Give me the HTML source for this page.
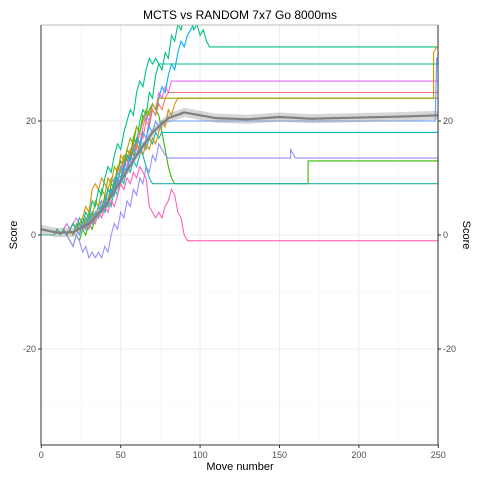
<!DOCTYPE html>
<html><head><meta charset="utf-8"><style>
body{margin:0;background:#fff;font-family:"Liberation Sans",sans-serif}
svg text{font-family:"Liberation Sans",sans-serif}
</style></head><body>
<svg id="chart" width="480" height="480" xmlns="http://www.w3.org/2000/svg">
<rect width="480" height="480" fill="#fff"/>
<text x="240" y="19" text-anchor="middle" font-size="12" fill="#000">MCTS vs RANDOM 7x7 Go 8000ms</text>
<g id="grid"></g>
<defs><clipPath id="pc"><rect x="41" y="25" width="397" height="420"/></clipPath></defs>
<g id="series" clip-path="url(#pc)"></g>
<g id="axes"></g>
<text x="240" y="470" text-anchor="middle" font-size="11">Move number</text>
<text transform="translate(17,235) rotate(-90)" text-anchor="middle" font-size="11">Score</text>
<text transform="translate(463,235) rotate(90)" text-anchor="middle" font-size="11">Score</text>
</svg>
<script>
const xTicks=[0,50,100,150,200,250];
const yTicks=[-20,0,20];
const step=2;
const startMove=8;
const colors=["#00BF7D","#00B0F6","#39B600","#9590FF","#00BFC4","#E76BF3","#FF62BC","#F8766D","#D89000","#A3A500","#619CFF","#00C08B","#20B2AA"];
const v0=[0,1,0,1,0,1,0,1,2,1,2,3,2,4,3,5,6,5,8,7,10,9,12,14,13,17,16,20,22,21,25,24,28,30,29,32,31,35,34,37,36,38,37,38,36,37,35,36,34,33];
const v1=[0,1,0,1,0,1,0,1,0,2,1,3,2,4,3,5,4,6,8,7,10,9,12,11,14,13,16,15,18,17,20,22,21,24,26,25,28,30,29,32,34,33,35,36,37,38,40];
const v2=[0,1,0,1,0,-1,-2,0,-1,1,0,2,1,3,5,4,7,6,9,8,11,13,12,15,14,17,19,18,21,20,22,23,22,21,18,15,12,10,9];
const v3=[0,1,0,1,0,-1,-2,0,-1,-3,-2,-4,-3,-4,-3,-4,-2,-3,0,2,1,4,3,6,5,8,7,10,9,12,11,14,13,16,15,14,13.5];
const v4=[0,1,0,1,2,1,0,1,2,1,2,3,2,4,3,5,4,6,5,8,7,10,9,12,11,13,12,14,16,15,17,16,18,17,18];
const v5=[0,1,0,1,2,1,2,3,2,1,2,3,4,3,5,4,6,8,7,9,11,10,13,12,15,14,17,16,19,21,20,23,22,25,24,26,25,27];
const v6=[0,1,0,1,0,1,0,1,2,1,2,1,3,2,4,3,5,4,6,5,7,9,8,10,9,11,10,12,11,10,5,4,3,4,3,5,6,8,7,4,3,0,-1];
const v7=[0,1,0,1,0,1,2,1,2,1,3,2,4,3,5,6,5,8,7,10,9,12,11,14,13,16,15,18,17,20,19,22,21,23,22,24,25];
const v8=[0,1,0,1,0,1,2,1,2,3,5,4,8,9,8,10,9,8,10,9,12,11,14,13,15,14,16,15,14,16,15,17,16,18,20,19,22,21,23,24];
const v9=[0,1,0,1,0,1,0,2,1,3,2,4,3,6,5,8,7,10,9,12,11,14,13,15,17,16,19,18,20,22,21,23,22,24];
const v10=[0,1,0,1,0,1,2,1,0,2,1,3,2,4,3,6,5,8,7,10,9,12,11,14,13,15,14,16,18,17,19,18,20,19,20];
const v11=[0,1,0,1,0,1,2,1,3,2,4,3,6,5,8,7,10,12,11,14,16,15,18,20,22,21,25,27,26,29,31,30,31,30];
const v12=[0,1,0,1,0,1,2,1,2,1,3,2,4,3,5,4,6,8,7,9,11,10,12,14,13,15,17,16,14,12,10,9];
const series=[v0,v1,v2,v3,v4,v5,v6,v7,v8,v9,v10,v11,v12];
const tails=[[],[],[[168,9],[168,13]],[[157,13.5],[157,15],[160,13.5]],[],[],[],[],[[247,24],[247,32],[249,33]],[],[[248,20],[249,31]],[],[]];
const trendX=[0,10,20,30,40,50,60,70,80,90,100,110,130,150,170,200,230,250];
const trendY=[1,0.4,0.5,2,5,9.5,14,18,20.5,21.5,21,20.5,20.3,20.7,20.4,20.6,20.8,21];
const X=m=>41.3+m*(397/250);
const Y=v=>235-v*5.7;
const NS="http://www.w3.org/2000/svg";
function mk(t,a,p){const e=document.createElementNS(NS,t);for(const k in a)e.setAttribute(k,a[k]);p.appendChild(e);return e;}
const grid=document.getElementById('grid');
for(let m=25;m<=250;m+=25){const l=mk('line',{x1:X(m),x2:X(m),y1:25,y2:445,stroke:m%50?'#f5f5f5':'#ebebeb','stroke-width':m%50?0.6:1},grid);

}
for(let v=-30;v<=30;v+=10){const l=mk('line',{x1:41,x2:438,y1:Y(v),y2:Y(v),stroke:v%20?'#f5f5f5':'#ebebeb','stroke-width':v%20?0.6:1},grid);

}
const sg=document.getElementById('series');
series.forEach((s,i)=>{
 const pts=[[0,s[0]]].concat(s.map((v,j)=>[startMove+j*step,v])).concat(tails[i]);
 const last=pts[pts.length-1];pts.push([250,last[1]]);
 const p=mk('polyline',{points:pts.map(q=>X(q[0])+','+Y(q[1])).join(' '),fill:'none',stroke:colors[i],'stroke-width':1.1},sg);
 
 
});
const up=trendX.map((m,i)=>X(m)+','+Y(trendY[i]+0.8)).join(' ');
const dn=trendX.map((m,i)=>X(m)+','+Y(trendY[i]-0.8)).reverse().join(' ');
const rib=mk('polygon',{points:up+' '+dn,fill:'#999',opacity:0.4},sg);


const tr=mk('polyline',{points:trendX.map((m,i)=>X(m)+','+Y(trendY[i])).join(' '),fill:'none',stroke:'#808080','stroke-width':2.2,'stroke-linejoin':'round'},sg);


const ax=document.getElementById('axes');
mk('line',{x1:41,x2:438,y1:25,y2:25,stroke:'#bbb'},ax);
const la=mk('line',{x1:41,x2:41,y1:25,y2:445,stroke:'#333'},ax);


const ra=mk('line',{x1:438,x2:438,y1:25,y2:445,stroke:'#333'},ax);


const ba=mk('line',{x1:41,x2:438,y1:445,y2:445,stroke:'#333'},ax);


xTicks.forEach(t=>{mk('line',{x1:X(t),x2:X(t),y1:445,y2:448,stroke:'#333'},ax);
 const tx=mk('text',{x:X(t),y:458,'text-anchor':'middle','font-size':9,fill:'#4d4d4d'},ax);tx.textContent=t;
 
 });
yTicks.forEach(t=>{mk('line',{x1:38,x2:41,y1:Y(t),y2:Y(t),stroke:'#333'},ax);
 mk('line',{x1:438,x2:441,y1:Y(t),y2:Y(t),stroke:'#333'},ax);
 const a=mk('text',{x:36,y:Y(t)+3,'text-anchor':'end','font-size':9,fill:'#4d4d4d'},ax);a.textContent=t;
 
 
 const b=mk('text',{x:443,y:Y(t)+3,'text-anchor':'start','font-size':9,fill:'#4d4d4d'},ax);b.textContent=t;
 
 });
</script>
</body></html>
